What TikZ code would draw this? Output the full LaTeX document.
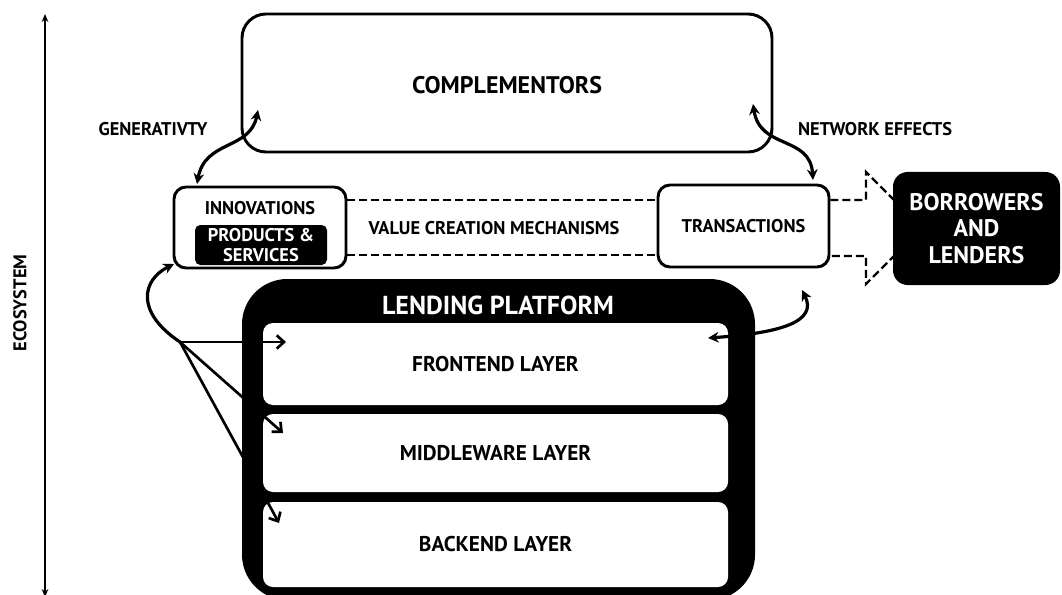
\documentclass[tikz,border=0pt]{standalone}
\usepackage{fontspec}
\setmainfont{PT Sans}
\usetikzlibrary{arrows.meta}
\begin{document}
\begin{tikzpicture}[x=0.75pt,y=-0.75pt,
  small/.style={font=\bfseries\fontsize{13.8}{15}\selectfont, align=center},
  mediumtxt/.style={font=\bfseries\fontsize{16}{18}\selectfont, align=center},
  bigtxt/.style={font=\bfseries\fontsize{18}{19.5}\selectfont, align=center},
  wbox/.style={draw=black, line width=2.2pt, fill=white, inner sep=0pt},
  bbox/.style={fill=black, text=white, inner sep=0pt},
  layer/.style={fill=white, rounded corners=7.5pt, inner sep=0pt, minimum width=348.75pt},
  arr/.style={line width=2.4pt, -{Stealth[length=8pt,width=8pt]}},
  darr/.style={line width=2.4pt, {Stealth[length=8pt,width=8pt]}-{Stealth[length=8pt,width=8pt]}},
  fan/.style={line width=2pt, -{Straight Barb[length=5.5pt,width=10pt,line width=2pt]}},
  dashline/.style={line width=1.7pt, dash pattern=on 6pt off 3pt}
]
\useasboundingbox (0,0) rectangle (1062,595);

% ecosystem axis
\coordinate (axb) at (45,597);
\coordinate (axt) at (45,14);
\draw[line width=1.7pt, {Stealth[length=6pt,width=5pt]}-{Stealth[length=6pt,width=5pt]}] (axb) -- (axt);
\node[small, rotate=90] (eco) at (20,303) {ECOSYSTEM};

% complementors
\node[wbox, rounded corners=18pt, minimum width=397.5pt, minimum height=103.5pt] (comp) at (507,83) {};
\node[bigtxt] (comptxt) at (507,85) {COMPLEMENTORS};

\node[small] (gen) at (153,129) {GENERATIVTY};
\node[small] (net) at (875,129) {NETWORK EFFECTS};

% innovations
\node[wbox, rounded corners=9pt, minimum width=129pt, minimum height=60.75pt] (innov) at (260,227.5) {};
\node[small] (innovtxt) at (260,208) {INNOVATIONS};
\node[bbox, small, rounded corners=4pt, minimum width=99pt, minimum height=30pt] (prod) at (261,245) {PRODUCTS \&\\SERVICES};

% transactions
\node[wbox, rounded corners=9pt, minimum width=128.25pt, minimum height=61.5pt, small] (trans) at (743.5,226) {TRANSACTIONS};

% value creation
\draw[dashline] (innov.east |- 0,200) -- (trans.west |- 0,200);
\draw[dashline] (innov.east |- 0,255) -- (trans.west |- 0,255);
\node[small] (vcm) at (494,228) {VALUE CREATION MECHANISMS};

% hollow dashed arrow to borrowers
\coordinate (da1) at (866,200);
\coordinate (da2) at (866,172);
\coordinate (datip) at (922,228);
\coordinate (da3) at (866,284);
\coordinate (da4) at (866,256);
\draw[dashline] (trans.east |- da1) -- (da1) -- (da2) -- (datip) -- (da3) -- (da4) -- (trans.east |- da4);

% borrowers and lenders
\node[bbox, font=\bfseries\fontsize{18}{20}\selectfont, align=center, rounded corners=11pt, minimum width=125.25pt, minimum height=84.75pt] (borr) at (976.5,228.5) {BORROWERS\\AND\\LENDERS};

% lending platform
\node[fill=black, rounded corners=34pt, inner sep=0pt, minimum width=384.75pt, minimum height=240.75pt] (plat) at (498.5,439.5) {};
\node[font=\bfseries\fontsize{19.5}{21}\selectfont, text=white] (plattxt) at (498,305) {LENDING PLATFORM};
\node[layer, minimum height=61.5pt, mediumtxt] (front) at (495.5,364) {FRONTEND LAYER};
\node[layer, minimum height=58.5pt, mediumtxt] (mid) at (495.5,453) {MIDDLEWARE LAYER};
\node[layer, minimum height=63.75pt, mediumtxt] (back) at (495.5,544.5) {BACKEND LAYER};

% generativity and network effects arrows
\coordinate (g1) at (197,184);
\coordinate (g2) at (258,110);
\draw[darr] (g2) .. controls (250,150) and (205,140) .. (g1);
\coordinate (n1) at (753,104);
\coordinate (n2) at (813,180);
\draw[darr] (n1) .. controls (760,150) and (810,135) .. (n2);

% transactions to frontend
\coordinate (t1) at (802,290);
\coordinate (t2) at (708,338);
\draw[darr] (t1) .. controls (818,322) and (780,333) .. (t2);

% fan from the left
\coordinate (fp) at (180,342);
\coordinate (f1) at (286,342);
\coordinate (f2) at (283,433);
\coordinate (f3) at (279,523);
\coordinate (f0) at (174,264);
\draw[arr] (fp) .. controls (135,312) and (142,280) .. (f0);
\draw[fan] (fp) -- (f1);
\draw[fan] (fp) -- (f2);
\draw[fan] (fp) -- (f3);
\end{tikzpicture}
\end{document}
